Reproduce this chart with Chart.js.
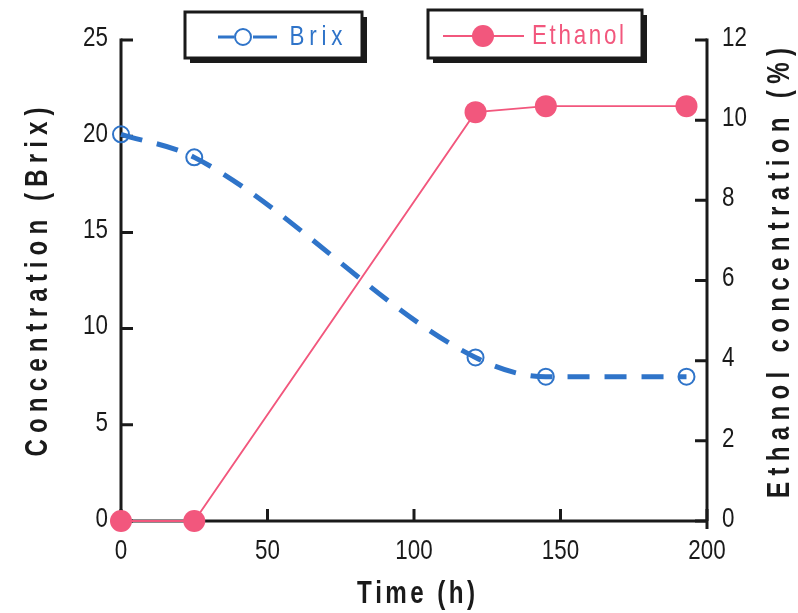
<!DOCTYPE html>
<html>
<head>
<meta charset="utf-8">
<script src="https://cdn.jsdelivr.net/npm/chart.js@4"></script>
<style>
  html, body { margin: 0; padding: 0; background: #fff; }
  #wrap { width: 798px; height: 613px; position: relative; }
</style>
</head>
<body>
<div id="wrap"><canvas id="chart" width="798" height="613"></canvas></div>
<script>
const hours = [0, 25, 121, 145, 193];
const brix = [20.1, 18.9, 8.5, 7.5, 7.5];
const ethanol = [0, 0, 10.2, 10.35, 10.35];

const BLUE = '#2f74c9';
const PINK = '#f2577d';
const INK = '#1a1a1a';
const FAMILY = '"Liberation Sans", Arial, sans-serif';

const toPoints = (ys) => hours.map((h, i) => ({ x: h, y: ys[i] }));

// narrow text: each glyph squeezed by sx, spread out to fill `length` when given
function narrowText(ctx, text, cx, cy, font, sx, length, align) {
    ctx.font = font;
    const chars = Array.from(text);
    const widths = chars.map((c) => ctx.measureText(c).width * sx);
    const natural = widths.reduce((s, w) => s + w, 0);
    const extra = length ? (length - natural) / Math.max(1, chars.length - 1) : 0;
    const total = natural + extra * (chars.length - 1);
    let x = cx - total / 2;
    if (align === 'right') x = cx - total;
    if (align === 'left') x = cx;
    ctx.textAlign = 'left';
    ctx.textBaseline = 'middle';
    chars.forEach((c, i) => {
        ctx.save();
        ctx.translate(x, cy);
        ctx.scale(sx, 1);
        ctx.fillText(c, 0, 0);
        ctx.restore();
        x += widths[i] + extra;
    });
}

const TICK_FONT = '28px ' + FAMILY;
const TITLE_FONT = 'bold 31px ' + FAMILY;

const axesPlugin = {
    id: 'axes',
    // frame and inward ticks sit under the lines
    beforeDatasetsDraw(chart) {
        const { ctx, chartArea: a, scales } = chart;
        ctx.save();
        ctx.strokeStyle = INK;
        ctx.lineWidth = 3;
        ctx.beginPath();
        ctx.moveTo(a.left, a.top - 1.5);
        ctx.lineTo(a.left, a.bottom + 8);
        ctx.moveTo(a.left - 1.5, a.bottom);
        ctx.lineTo(a.right + 1.5, a.bottom);
        ctx.moveTo(a.right, a.top - 1.5);
        ctx.lineTo(a.right, a.bottom + 8);
        ctx.stroke();
        const tl = 12;
        ctx.beginPath();
        scales.y.ticks.forEach((t) => {
            const y = scales.y.getPixelForValue(t.value);
            ctx.moveTo(a.left, y);
            ctx.lineTo(a.left + tl, y);
        });
        scales.y1.ticks.forEach((t) => {
            const y = scales.y1.getPixelForValue(t.value);
            ctx.moveTo(a.right, y);
            ctx.lineTo(a.right - tl, y);
        });
        scales.x.ticks.forEach((t) => {
            const x = scales.x.getPixelForValue(t.value);
            ctx.moveTo(x, a.bottom);
            ctx.lineTo(x, a.bottom - tl);
        });
        ctx.stroke();

        ctx.fillStyle = INK;
        scales.y.ticks.forEach((t) => {
            narrowText(ctx, String(t.value), a.left - 13, scales.y.getPixelForValue(t.value) - 2, TICK_FONT, 0.8, 0, 'right');
        });
        scales.y1.ticks.forEach((t) => {
            narrowText(ctx, String(t.value), a.right + 15, scales.y1.getPixelForValue(t.value) - 2, TICK_FONT, 0.8, 0, 'left');
        });
        scales.x.ticks.forEach((t) => {
            narrowText(ctx, String(t.value), scales.x.getPixelForValue(t.value), a.bottom + 30, TICK_FONT, 0.8, 0, 'center');
        });

        narrowText(ctx, 'Time (h)', 416, 594, TITLE_FONT, 0.78, 118);

        ctx.save();
        ctx.translate(38, 282);
        ctx.rotate(-Math.PI / 2);
        narrowText(ctx, 'Concentration (Brix)', 0, 0, TITLE_FONT, 0.78, 349);
        ctx.restore();

        ctx.save();
        ctx.translate(780, 273);
        ctx.rotate(-Math.PI / 2);
        narrowText(ctx, 'Ethanol concentration (%)', 0, 0, TITLE_FONT, 0.78, 450);
        ctx.restore();
        ctx.restore();
    },
    afterDraw(chart) {
        const ctx = chart.ctx;
        drawLegendBox(ctx, 185, 12, 177, 46);
        drawLegendBox(ctx, 428, 10, 214, 48);

        ctx.save();
        // Brix key: open circle on a dashed stub
        ctx.strokeStyle = BLUE;
        ctx.fillStyle = BLUE;
        ctx.lineWidth = 3;
        ctx.beginPath();
        ctx.moveTo(218, 37);
        ctx.lineTo(234, 37);
        ctx.moveTo(253, 37);
        ctx.lineTo(277, 37);
        ctx.stroke();
        ctx.lineWidth = 2;
        ctx.beginPath();
        ctx.arc(243, 37, 8, 0, Math.PI * 2);
        ctx.stroke();
        narrowText(ctx, 'Brix', 316, 37, '28px ' + FAMILY, 0.8, 53);

        // Ethanol key: filled dot on a thin line
        ctx.strokeStyle = PINK;
        ctx.fillStyle = PINK;
        ctx.lineWidth = 2;
        ctx.beginPath();
        ctx.moveTo(443, 36);
        ctx.lineTo(524, 36);
        ctx.stroke();
        ctx.beginPath();
        ctx.arc(483, 36, 11, 0, Math.PI * 2);
        ctx.fill();
        narrowText(ctx, 'Ethanol', 578, 36, '28px ' + FAMILY, 0.8, 92);
        ctx.restore();
    }
};

function drawLegendBox(ctx, x, y, w, h) {
    ctx.save();
    ctx.fillStyle = INK;
    ctx.fillRect(x + 5, y + 5, w, h);
    ctx.fillStyle = '#fff';
    ctx.fillRect(x, y, w, h);
    ctx.strokeStyle = INK;
    ctx.lineWidth = 3;
    ctx.strokeRect(x, y, w, h);
    ctx.restore();
}

new Chart(document.getElementById('chart'), {
    type: 'line',
    data: {
        datasets: [
            {
                label: 'Brix',
                data: toPoints(brix),
                yAxisID: 'y',
                borderColor: BLUE,
                borderWidth: 5,
                borderDash: [22, 15],
                cubicInterpolationMode: 'monotone',
                pointRadius: 8,
                pointBorderWidth: 2,
                pointBorderColor: BLUE,
                pointBackgroundColor: 'rgba(255,255,255,0)',
                clip: false,
                order: 2
            },
            {
                label: 'Ethanol',
                data: toPoints(ethanol),
                yAxisID: 'y1',
                borderColor: PINK,
                borderWidth: 1.8,
                tension: 0,
                pointRadius: 11,
                pointBorderWidth: 0,
                pointBackgroundColor: PINK,
                clip: false,
                order: 1
            }
        ]
    },
    options: {
        responsive: false,
        animation: false,
        layout: { padding: { top: 40, left: 0, right: 0, bottom: 0 } },
        plugins: { legend: { display: false }, tooltip: { enabled: false } },
        scales: {
            x: {
                type: 'linear',
                min: 0,
                max: 200,
                ticks: { stepSize: 50, display: false },
                grid: { display: false },
                border: { display: false },
                afterFit(s) { s.height = 92; }
            },
            y: {
                position: 'left',
                min: 0,
                max: 25,
                ticks: { stepSize: 5, display: false },
                grid: { display: false },
                border: { display: false },
                afterFit(s) { s.width = 121; }
            },
            y1: {
                position: 'right',
                min: 0,
                max: 12,
                ticks: { stepSize: 2, display: false },
                grid: { display: false },
                border: { display: false },
                afterFit(s) { s.width = 91; }
            }
        }
    },
    plugins: [axesPlugin]
});
</script>
</body>
</html>
